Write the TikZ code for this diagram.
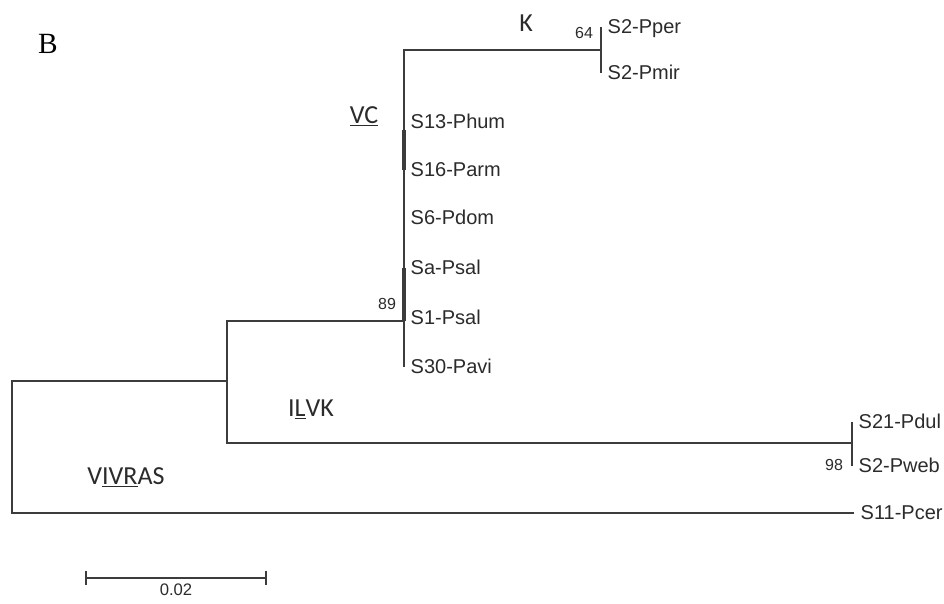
\documentclass[tikz,border=0pt]{standalone}
\usepackage{fontspec}
\setmainfont{Liberation Sans}
\newfontfamily\cladefont{Carlito}
\newfontfamily\panelfont{Liberation Serif}
\definecolor{treeLine}{HTML}{3C3C3C}
\definecolor{treeText}{HTML}{2B2B2B}
\usetikzlibrary{arrows.meta}

\begin{document}
\begin{tikzpicture}[x=0.75pt, y=-0.75pt,
    branch/.style={treeLine, line width=1pt},
    thickbranch/.style={treeLine, line width=2.6pt},
    leaf/.style={anchor=west, inner xsep=5pt, inner ysep=0pt, outer sep=0pt, text=treeText,
        text height=10.3pt, text depth=0pt, font=\fontsize{15}{18}\selectfont},
    boot/.style={inner sep=0pt, text=treeText, font=\fontsize{12}{14}\selectfont},
    clade/.style={inner sep=0pt, text=treeText, font=\cladefont\fontsize{19.5}{22}\selectfont}]
    \useasboundingbox (0,0) rectangle (944,603);

    % ══════════════════════════════════════════════
    % ══ NODOS INTERNOS ══
    % ══════════════════════════════════════════════
    \coordinate (root) at (12,447);
    \coordinate (nILVK) at (227,381);
    \coordinate (n89) at (404,321);
    \coordinate (nK) at (601,50);
    \coordinate (n98) at (852,443);

    % ══════════════════════════════════════════════
    % ══ HOJAS ══
    % ══════════════════════════════════════════════
    \node[leaf] (Pper) at (601,27) {S2-Pper};
    \node[leaf] (Pmir) at (601,73) {S2-Pmir};
    \node[leaf] (Phum) at (404,122) {S13-Phum};
    \node[leaf] (Parm) at (404,170) {S16-Parm};
    \node[leaf] (Pdom) at (404,218) {S6-Pdom};
    \node[leaf] (Psala) at (404,268) {Sa-Psal};
    \node[leaf] (Psal) at (404,318) {S1-Psal};
    \node[leaf] (Pavi) at (404,367) {S30-Pavi};
    \node[leaf] (Pdul) at (852,422) {S21-Pdul};
    \node[leaf] (Pweb) at (852,466) {S2-Pweb};
    \node[leaf] (Pcer) at (854,513) {S11-Pcer};

    % ══════════════════════════════════════════════
    % ══ RAMAS ══
    % ══════════════════════════════════════════════
    \draw[branch] (root) |- (nILVK);
    \draw[branch] (root) |- (Pcer);
    \draw[branch] (nILVK) |- (n89);
    \draw[branch] (nILVK) |- (n98);
    \draw[branch] (n89) |- (nK);
    \draw[branch] (n89) |- (Pavi);
    \foreach \hoja in {Phum, Parm, Pdom, Psala, Psal}
        \draw[branch] (n89) |- (\hoja);
    \draw[branch] (nK) |- (Pper);
    \draw[branch] (nK) |- (Pmir);
    \draw[branch] (n98) |- (Pdul);
    \draw[branch] (n98) |- (Pweb);

    % Ramas casi nulas (tramos gruesos)
    \draw[thickbranch] (404,130) -- (Parm.west);
    \draw[thickbranch] (Psala.west) -- (n89);

    % ══════════════════════════════════════════════
    % ══ BOOTSTRAP Y CLADOS ══
    % ══════════════════════════════════════════════
    \node[boot] (b64) at (584,33) {64};
    \node[boot] (b89) at (387,304) {89};
    \node[boot] (b98) at (834,465) {98};

    \node[clade] (cK) at (526,23) {K};
    \node[clade] (cVC) at (364,116) {\underline{VC}};
    \node[clade] (cILVK) at (311,409) {I\underline{L}VK};
    \node[clade] (cVIVRAS) at (126,477) {V\underline{IVR}AS};

    \node[inner sep=0pt, font=\panelfont\fontsize{22}{24}\selectfont] (panel) at (48,44) {B};

    % ══════════════════════════════════════════════
    % ══ ESCALA ══
    % ══════════════════════════════════════════════
    \coordinate (sbL) at (85,578);
    \coordinate (sbR) at (267,578);
    \draw[treeLine, line width=1.2pt, {Bar[width=10pt]}-{Bar[width=10pt]}] (sbL) -- (sbR)
        node[midway, below=4pt, inner sep=0pt, text=treeText, font=\fontsize{12.5}{14}\selectfont] (sbText) {0.02};

\end{tikzpicture}
\end{document}
